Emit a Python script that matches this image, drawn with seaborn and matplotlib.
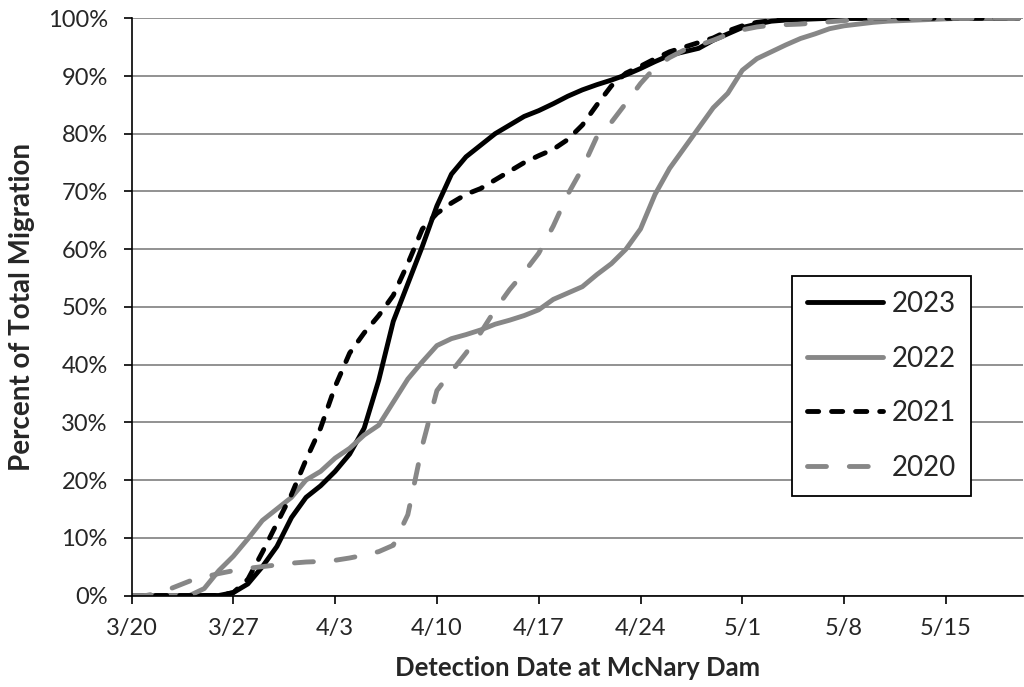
import matplotlib
matplotlib.use("Agg")
import matplotlib.pyplot as plt
import seaborn as sns
import pandas as pd

# ---- data -------------------------------------------------------------
days = list(range(62))  # day 0 = 3/20 ... day 61 = 5/20
tick_days = [0, 7, 14, 21, 28, 35, 42, 49, 56]
tick_labels = ["3/20", "3/27", "4/3", "4/10", "4/17", "4/24", "5/1", "5/8", "5/15"]
y_ticks = [0, 10, 20, 30, 40, 50, 60, 70, 80, 90, 100]
y_tick_labels = ["0%", "10%", "20%", "30%", "40%", "50%", "60%", "70%", "80%", "90%", "100%"]

years = ["2023", "2022", "2021", "2020"]

pct_2023 = [0, 0, 0, 0, 0, 0, 0, 0.5, 2, 5,
            8.5, 13.5, 17, 19, 21.5, 24.5, 29, 37.3, 47.5, 54,
            60.5, 67.5, 73, 76, 78, 80, 81.5, 83, 84, 85.2,
            86.5, 87.6, 88.5, 89.3, 90.2, 91.3, 92.5, 93.6, 94.2, 94.8,
            96.2, 97.3, 98.4, 99, 99.5, 99.7, 99.8, 99.9, 100, 100,
            100, 100, 100, 100, 100, 100, 100, 100, 100, 100,
            100, 100]
pct_2022 = [0, 0, 0, 0, 0, 1.2, 4.3, 6.8, 9.8, 13,
            15, 17, 20, 21.5, 23.8, 25.5, 27.8, 29.5, 33.5, 37.5,
            40.5, 43.3, 44.5, 45.2, 46, 47, 47.7, 48.5, 49.5, 51.3,
            52.4, 53.5, 55.6, 57.5, 60, 63.5, 69.5, 74, 77.5, 81,
            84.5, 87, 91, 93, 94.2, 95.4, 96.5, 97.3, 98.2, 98.7,
            99, 99.3, 99.5, 99.6, 99.7, 99.8, 99.9, 100, 100, 100,
            100, 100]
pct_2021 = [0, 0, 0, 0, 0, 0, 0, 0.5, 2.8, 7.5,
            12.5, 17.5, 23.5, 29, 36.2, 42, 45.5, 48.5, 52, 57.5,
            63.5, 66.2, 68, 69.5, 70.5, 72, 73.5, 75, 76.2, 77.3,
            79, 81.5, 85, 88.3, 90.5, 91.7, 93, 94.2, 95, 95.8,
            96.6, 97.8, 98.7, 99.3, 99.6, 99.8, 99.9, 100, 100, 100,
            100, 100, 100, 100, 100, 100, 100, 100, 100, 100,
            100, 100]
pct_2020 = [0, 0, 0.5, 1.5, 2.5, 3.2, 3.8, 4.3, 4.7, 5,
            5.3, 5.6, 5.8, 5.9, 6.1, 6.5, 7, 7.6, 8.7, 14,
            26, 35.5, 38.8, 42, 45.5, 49.5, 53, 56, 59.3, 64,
            69.5, 74, 79.5, 82, 85.3, 88.7, 91.5, 93.2, 94.5, 95.3,
            96.2, 97.2, 98, 98.5, 98.8, 98.9, 99, 99.2, 99.4, 99.6,
            99.8, 100, 100, 100, 100, 100, 100, 100, 100, 100,
            100, 100]

series = {"2023": pct_2023, "2022": pct_2022, "2021": pct_2021, "2020": pct_2020}
colors = {"2023": "#000000", "2022": "#878787", "2021": "#000000", "2020": "#878787"}
styles = {"2023": "-", "2022": "-", "2021": (0, (2.3, 2.65)), "2020": (0, (3.9, 4.7))}

# ---- figure -----------------------------------------------------------
sns.set_style("white")
plt.rcParams["font.family"] = ["Lato", "DejaVu Sans"]

fig = plt.figure(figsize=(10.24, 6.87), dpi=100)
ax = fig.add_axes([131.5 / 1024, 1 - 595.5 / 687, (1023 - 131.5) / 1024, (595.5 - 18.3) / 687])

lw = 3.5
for yr in years:
    df = pd.DataFrame({"day": days, "pct": series[yr]})
    sns.lineplot(data=df, x="day", y="pct", ax=ax, color=colors[yr],
                 linestyle=styles[yr], linewidth=lw, label=yr)

for line in ax.get_lines():
    line.set_dash_capstyle("round")
    line.set_solid_capstyle("round")
    line.set_solid_joinstyle("round")
    line.set_dash_joinstyle("round")

ax.set_xlim(0, 61.3)
ax.set_ylim(0, 100)
ax.set_xticks(tick_days)
ax.set_xticklabels(tick_labels)
ax.set_yticks(y_ticks)
ax.set_yticklabels(y_tick_labels)

ax.yaxis.grid(True, color="#898989", linewidth=1.3)
ax.xaxis.grid(False)
ax.set_axisbelow(True)

for s in ["top", "right"]:
    ax.spines[s].set_visible(False)
for s in ["left", "bottom"]:
    ax.spines[s].set_color("black")
    ax.spines[s].set_linewidth(1.2)

ax.tick_params(axis="x", which="major", direction="out", length=6, width=1.2,
               color="black", labelsize=17, pad=10, bottom=True)
ax.tick_params(axis="y", which="major", direction="out", length=6, width=1.2,
               color="black", labelsize=17, pad=11, left=True)

ax.set_xlabel("Detection Date at McNary Dam", fontsize=18.5, fontweight="bold")
ax.set_ylabel("Percent of Total Migration", fontsize=20, fontweight="bold")
ax.xaxis.set_label_coords(0.5, -0.104)
ax.yaxis.set_label_coords(-0.108, 0.5)

leg = ax.legend(loc="upper left", bbox_to_anchor=(791.7 / 1024, 1 - 275.7 / 687),
                bbox_transform=fig.transFigure, borderaxespad=0,
                fontsize=20, handlelength=2.75, handletextpad=0.3,
                labelspacing=1.03, borderpad=0.55, frameon=True,
                fancybox=False, framealpha=1)
leg.get_frame().set_edgecolor("black")
leg.get_frame().set_linewidth(1.3)

fig.savefig("out.png", dpi=100, facecolor="white")
